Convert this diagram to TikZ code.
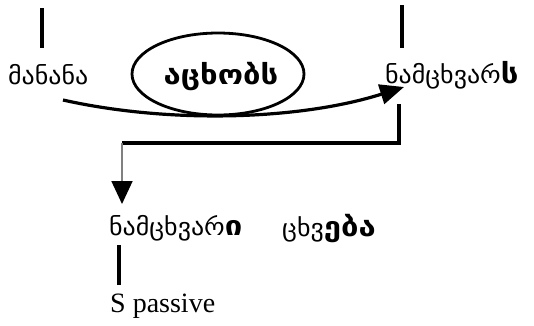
\documentclass[tikz,border=0pt]{standalone}
\usepackage{fontspec}
\setmainfont{Liberation Serif}
\newfontfamily\geo[FakeStretch=1.08]{DejaVu Sans}
\newfontfamily\geob[FakeStretch=1.15]{DejaVu Sans}
\newcommand\gb[1]{{\geob\bfseries\fontsize{27}{30}\selectfont #1}}
\usetikzlibrary{arrows.meta,shapes.geometric}
\begin{document}
\begin{tikzpicture}[x=1pt,y=-1pt,
  geotext/.style={font=\geo\fontsize{24}{28}\selectfont, inner sep=0pt, anchor=base west},
  tick/.style={line width=3.4pt, black},
  conn/.style={line width=3.2pt, black}]
\useasboundingbox (0,0) rectangle (534,325);
% top words
\node[geotext] (manana) at (8,84) {მანანა};
\node[geotext] (namcxvars) at (385,83) {ნამცხვარ\gb{ს}};
\node[ellipse, draw, line width=2.8pt, minimum width=172pt, minimum height=82pt, inner sep=0pt] (ell) at (218,74) {};
\node[font=\geob\bfseries\fontsize{27}{30}\selectfont, inner sep=0pt] (acxobs) at (221,77) {აცხობს};
% ticks above
\coordinate (t1a) at (42,8); \coordinate (t1b) at (42,48);
\draw[tick] (t1a) -- (t1b);
\coordinate (t2a) at (402,5); \coordinate (t2b) at (402,48);
\draw[tick] (t2a) -- (t2b);
% curved arrow
\coordinate (cs) at (63,100);
\coordinate (ce) at (404,87);
\draw[line width=3.2pt, -{Triangle[length=24pt,width=20pt]}] (cs) .. controls (170,124) and (300,120) .. (ce);
% bent connector
\coordinate (b1) at (399,104);
\coordinate (b2) at (399,143);
\coordinate (b3) at (122,143);
\coordinate (b4) at (122,204);
\draw[conn] (b1) -- (b2) -- (b3);
\draw[gray, line width=1.8pt, -{Triangle[length=23pt,width=21pt,color=black,fill=black]}] (b3) -- (b4);
% bottom words
\node[geotext] (namcxvari) at (109,235) {ნამცხვარ\gb{ი}};
\node[geotext] (cxveba) at (282,236) {ცხვ\gb{ება}};
\coordinate (t3a) at (119,245); \coordinate (t3b) at (119,285);
\draw[tick] (t3a) -- (t3b);
\node[font=\fontsize{28}{32}\selectfont, inner sep=0pt, anchor=base west] (spass) at (110,312) {S passive};
\end{tikzpicture}
\end{document}
